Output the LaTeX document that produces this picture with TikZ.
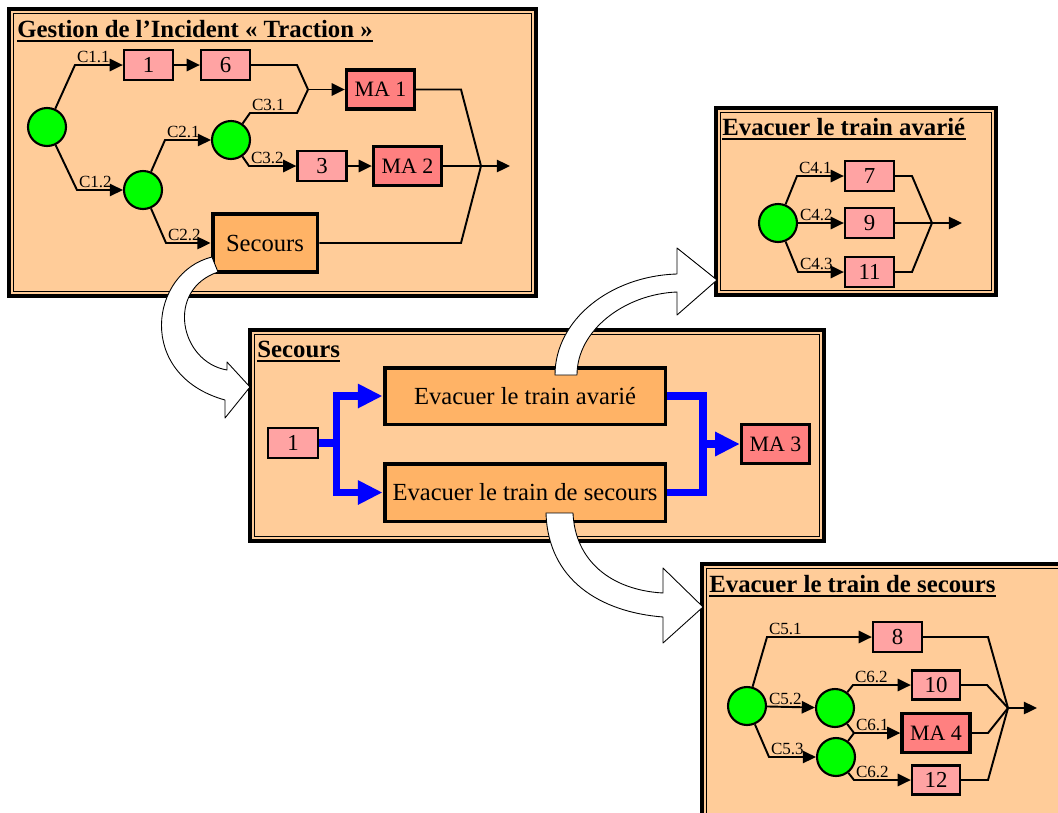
\documentclass[tikz,border=0pt]{standalone}
\usepackage{fontspec}
\setmainfont{Liberation Serif}
\usetikzlibrary{arrows.meta}
\definecolor{peach}{RGB}{255,204,153}
\definecolor{taskpink}{RGB}{255,163,163}
\definecolor{marose}{RGB}{255,128,128}
\definecolor{suborange}{RGB}{255,179,102}
\begin{document}
\begin{tikzpicture}[x=0.02cm,y=-0.02cm,
    cond/.style={fill=green,draw=black,circle,line width=1.2pt,minimum
        size=0.76cm,inner sep=0pt},
    task/.style={fill=taskpink,draw=black,line width=1.3pt,minimum
        width=0.98cm,minimum height=0.6cm,inner sep=0pt,font=\fontsize{13}{15}\selectfont},
    ma/.style={fill=marose,draw=black,line width=1.9pt,minimum
        width=1.36cm,minimum height=0.78cm,inner sep=0pt,font=\fontsize{12.5}{15}\selectfont},
    sub/.style={fill=suborange,draw=black,line width=1.7pt,inner sep=0pt,font=\fontsize{14}{16}\selectfont},
    panel/.style={fill=peach,draw=black,line width=2.3pt},
    title/.style={anchor=base west,inner sep=0pt,font=\fontsize{14.1}{17}\selectfont\bfseries},
    lbl/.style={anchor=base west,inner sep=0pt,xshift=0.6pt,yshift=1.4pt,font=\fontsize{9.7}{11}\selectfont},
    line/.style={line width=1.1pt},
    flow/.style={line width=1.1pt,-{Triangle[length=7.5pt,width=7pt]}},
    blueline/.style={draw=blue,line width=4pt},
    blueflow/.style={draw=blue,line width=4pt,-{Triangle[length=14pt,width=13pt]}},
    bigarrow/.style={fill=white,draw=black,line width=0.5pt,line join=round}]

    \fill[white] (0,0) rectangle (1058,812);
    \useasboundingbox (0,0) rectangle (1058,812);
    \clip (0,0) rectangle (1058,812);

    % the panels
    \draw[panel] (9,9) rectangle (536,296);
    \draw[thin] (13.5,13.5) rectangle (531.5,291.5);
    \draw[panel] (716,108) rectangle (996,295);
    \draw[thin] (720.5,112.5) rectangle (991.5,290.5);
    \draw[panel] (250,330) rectangle (824,541);
    \draw[thin] (254.5,334.5) rectangle (819.5,536.5);
    \draw[panel] (702,564) rectangle (1080,830);
    \draw[thin] (706.5,568.5) rectangle (1075,825);

    \node[title] (tt1) at (17,37) {Gestion de l’Incident « Traction »};
    \node[title] (tt2) at (722,135) {Evacuer le train avarié};
    \node[title] (tt3) at (257,357) {Secours};
    \node[title] (tt4) at (709,592) {Evacuer le train de secours};
    \foreach \n in {tt1,tt2,tt3,tt4}
    \draw[line width=1.1pt] ([yshift=-2.3pt]\n.base west) -- ([yshift=-2.3pt]\n.base east);

    % incident traction
    \node[cond] (c0) at (47,127) {};
    \node[cond] (c2) at (143,190) {};
    \node[cond] (c3) at (231,140) {};
    \node[task] (t1) at (148.5,65) {1};
    \node[task] (t6) at (225.5,65) {6};
    \node[ma] (ma1) at (380.5,89.5) {MA 1};
    \node[task] (t3) at (322,166) {3};
    \node[ma] (ma2) at (407.5,166) {MA 2};
    \node[sub,minimum width=2.12cm,minimum height=1.18cm] (sec) at (265,243) {Secours};
    \coordinate (j1) at (308,89.5);
    \coordinate (j2) at (481,166);
    \coordinate (out1) at (510,166);

    \draw[flow] (c0) -- (75,65) node[lbl]{C1.1} -- (t1);
    \draw[flow] (t1) -- (t6);
    \draw[line] (t6) -- (297,65) -- (j1);
    \draw[line] (c3) -- (250,113) node[lbl]{C3.1} -- (297,113) -- (j1);
    \draw[flow] (j1) -- (ma1);
    \draw[flow] (c0) -- (77,190) node[lbl]{C1.2} -- (c2);
    \draw[flow] (c2) -- (165,140) node[lbl]{C2.1} -- (c3);
    \draw[flow] (c3) -- (249,166) node[lbl]{C3.2} -- (t3);
    \draw[flow] (t3) -- (ma2);
    \draw[flow] (c2) -- (166,243) node[lbl]{C2.2} -- (sec);
    \draw[line] (ma1) -- (461,89.5) -- (j2);
    \draw[line] (ma2) -- (j2);
    \draw[line] (sec) -- (461,243) -- (j2);
    \draw[flow] (j2) -- (out1);

    % evacuer le train avarie
    \node[cond] (c4) at (778,223) {};
    \node[task] (t7) at (869.5,176) {7};
    \node[task] (t9) at (869.5,223) {9};
    \node[task] (t11) at (869.5,272) {11};
    \coordinate (j3) at (932,223);
    \coordinate (out2) at (962,223);

    \draw[flow] (c4) -- (797,176) node[lbl]{C4.1} -- (t7);
    \draw[flow] (c4) -- (t9) node[lbl,pos=0]{C4.2};
    \draw[flow] (c4) -- (798,272) node[lbl]{C4.3} -- (t11);
    \draw[line] (t7) -- (912,176) -- (j3);
    \draw[line] (t9) -- (j3);
    \draw[line] (t11) -- (912,272) -- (j3);
    \draw[flow] (j3) -- (out2);

    % secours
    \node[task,minimum width=1cm] (b1) at (293,443) {1};
    \node[sub,minimum width=5.64cm,minimum height=1.16cm] (eva) at (525,396) {Evacuer le train avarié};
    \node[sub,minimum width=5.64cm,minimum height=1.18cm] (evs) at (525,492.5) {Evacuer le train de secours};
    \node[ma] (ma3) at (775.5,444) {MA 3};
    \coordinate (k1) at (336.5,443);
    \coordinate (k2) at (703,444);

    \draw[blueline] (b1) -- (k1);
    \draw[blueflow] (k1) |- (eva);
    \draw[blueflow] (k1) |- (evs);
    \draw[blueline] (eva) -| (k2) |- (evs);
    \draw[blueflow] (k2) -- (ma3);

    % evacuer le train de secours
    \node[cond] (ca) at (747,706) {};
    \node[cond] (cb) at (835,708) {};
    \node[cond] (cc) at (836,757) {};
    \node[task] (t8) at (897.5,637) {8};
    \node[task,minimum width=0.96cm,minimum height=0.58cm] (t10) at (936,685) {10};
    \node[ma] (ma4) at (936,733) {MA 4};
    \node[task,minimum width=0.96cm,minimum height=0.58cm] (t12) at (936,780) {12};
    \coordinate (j4) at (854,733);
    \coordinate (j5) at (1008,708);
    \coordinate (out3) at (1037,708);

    \draw[flow] (ca) -- (767,637) node[lbl]{C5.1} -- (t8);
    \draw[flow] (ca) -- (cb) node[lbl,pos=0]{C5.2};
    \draw[flow] (ca) -- (769,757) node[lbl]{C5.3} -- (cc);
    \draw[flow] (cb) -- (853,685) node[lbl]{C6.2} -- (t10);
    \draw[line] (cb) -- (j4);
    \draw[line] (cc) -- (j4);
    \draw[flow] (j4) -- (ma4) node[lbl,pos=0]{C6.1};
    \draw[flow] (cc) -- (854,780) node[lbl]{C6.2} -- (t12);
    \draw[line] (t8) -- (988,637) -- (j5);
    \draw[line] (t10) -- (987,685) -- (j5);
    \draw[line] (ma4) -- (988,733) -- (j5);
    \draw[line] (t12) -- (988,780) -- (j5);
    \draw[flow] (j5) -- (out3);

    \foreach \n in {sec,eva,evs}
    \draw[thin] ([shift={(3.5,3.5)}]\n.north west) rectangle ([shift={(-3.5,-3.5)}]\n.south east);

    % the hollow arrows
    \draw[bigarrow] (212,257) .. controls (150,272) and (135,375) .. (225,400)
    -- (225,418) -- (250,387) -- (227,362) -- (227,370)
    .. controls (180,362) and (165,290) .. (218,272) -- cycle;
    \draw[bigarrow] (555,375) .. controls (555,320) and (610,276) .. (677,274)
    -- (677,248) -- (717,280) -- (677,315) -- (677,292)
    .. controls (625,294) and (577,330) .. (577,375) -- cycle;
    \draw[bigarrow] (546,513) .. controls (548,580) and (600,612) .. (663,617)
    -- (663,643) -- (703,607) -- (663,568) -- (663,593)
    .. controls (610,590) and (575,560) .. (573,513) -- cycle;
\end{tikzpicture}
\end{document}
